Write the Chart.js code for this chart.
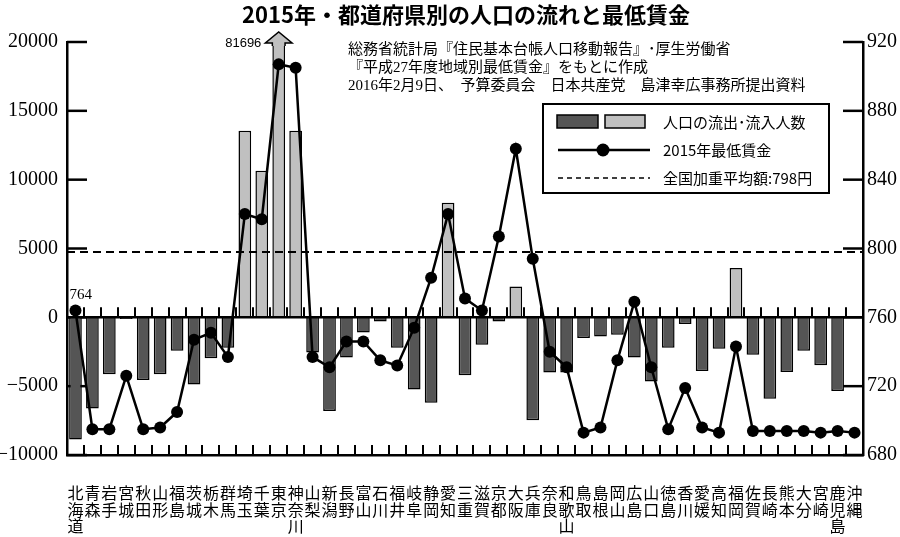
<!DOCTYPE html>
<html lang="ja">
<head>
<meta charset="utf-8">
<title>2015年・都道府県別の人口の流れと最低賃金</title>
<script src="https://cdn.jsdelivr.net/npm/chart.js@4.4.1/dist/chart.umd.min.js"></script>
<style>
  html, body { margin: 0; padding: 0; background: #fff; }
  canvas { display: block; }
</style>
</head>
<body>
<canvas id="chart" width="900" height="537"></canvas>
<script>
const prefectures = [
  "北海道", "青森", "岩手", "宮城", "秋田", "山形", "福島", "茨城", "栃木", "群馬",
  "埼玉", "千葉", "東京", "神奈川", "山梨", "新潟", "長野", "富山", "石川", "福井",
  "岐阜", "静岡", "愛知", "三重", "滋賀", "京都", "大阪", "兵庫", "奈良", "和歌山",
  "鳥取", "島根", "岡山", "広島", "山口", "徳島", "香川", "愛媛", "高知", "福岡",
  "佐賀", "長崎", "熊本", "大分", "宮崎", "鹿児島", "沖縄"
];

// 転入超過数（人）: マイナスは流出
const netMigration = [
  -8880, -6620, -4140, -130, -4550, -4140, -2430, -4870, -2970, -2210,
  13550, 10650, 81696, 13550, -2550, -6810, -2920, -1100, -300, -2210,
  -5250, -6200, 8320, -4210, -2000, -300, 2240, -7470, -4010, -4010,
  -1510, -1390, -1270, -2920, -4670, -2210, -490, -3890, -2290, 3580,
  -2720, -5910, -3970, -2430, -3480, -5350, 0
];

// 2015年 地域別最低賃金（円）
const minWage2015 = [
  764, 695, 695, 726, 695, 696, 705, 747, 751, 737,
  820, 817, 907, 905, 737, 731, 746, 746, 735, 732,
  754, 783, 820, 771, 764, 807, 858, 794, 740, 731,
  693, 696, 735, 769, 731, 695, 719, 696, 693, 743,
  694, 694, 694, 694, 693, 694, 693
];

const nationalAverage = 798;

const titleText = "2015年・都道府県別の人口の流れと最低賃金";
const sourceLines = [
  "総務省統計局『住民基本台帳人口移動報告』･厚生労働省",
  "『平成27年度地域別最低賃金』をもとに作成",
  "2016年2月9日、　予算委員会　日本共産党　島津幸広事務所提出資料"
];
const legendLabels = ["人口の流出･流入人数", "2015年最低賃金", "全国加重平均額:798円"];

const DARK = "#555555";
const LIGHT = "#c0c0c0";
const SANS = "'Noto Sans CJK JP', 'Noto Sans', sans-serif";
const SERIF = "'Liberation Serif', 'Noto Sans CJK JP', serif";

const plainNumber = v => String(v).replace("-", "\u2212");

const decorations = {
  id: "decorations",
  beforeDatasetsDraw(chart) {
    const { ctx, chartArea: a, scales: { y, y1 } } = chart;
    ctx.save();
    ctx.strokeStyle = "#000";
    // inward ticks on both value axes (behind the bars)
    ctx.lineWidth = 2.5;
    y.ticks.forEach(t => {
      const py = y.getPixelForValue(t.value);
      ctx.beginPath(); ctx.moveTo(a.left, py); ctx.lineTo(a.left + 20, py); ctx.stroke();
    });
    y1.ticks.forEach(t => {
      const py = y1.getPixelForValue(t.value);
      ctx.beginPath(); ctx.moveTo(a.right - 20, py); ctx.lineTo(a.right, py); ctx.stroke();
    });
    ctx.restore();
  },
  beforeDatasetDraw(chart, args) {
    if (args.index !== 0) return; // draw right before the wage line
    const { ctx, chartArea: a, scales: { x, y, y1 } } = chart;
    ctx.save();
    ctx.strokeStyle = "#000";

    // zero line
    const zeroY = y.getPixelForValue(0);
    ctx.lineWidth = 2.5;
    ctx.beginPath(); ctx.moveTo(a.left, zeroY); ctx.lineTo(a.right, zeroY); ctx.stroke();

    // category boundary ticks on the zero line and on the bottom axis
    ctx.lineWidth = 2;
    for (let i = 1; i < prefectures.length; i++) {
      const bx = Math.round((x.getPixelForValue(i - 1) + x.getPixelForValue(i)) / 2);
      ctx.beginPath();
      ctx.moveTo(bx, zeroY); ctx.lineTo(bx, zeroY - 10);
      ctx.moveTo(bx, a.bottom); ctx.lineTo(bx, a.bottom - 10);
      ctx.stroke();
    }

    // national weighted average
    const avgY = y1.getPixelForValue(nationalAverage);
    ctx.lineWidth = 2;
    ctx.setLineDash([8, 5]);
    ctx.beginPath(); ctx.moveTo(a.left, avgY); ctx.lineTo(a.right, avgY); ctx.stroke();
    ctx.restore();
  },
  afterDatasetsDraw(chart) {
    const { ctx, chartArea: a } = chart;
    ctx.save();

    // arrow head on the clipped Tokyo bar
    const tokyo = prefectures.indexOf("東京");
    const bar = chart.getDatasetMeta(1).data[tokyo];
    const half = bar.width / 2;
    const top = a.top + 1;
    const arrowPath = () => {
      ctx.beginPath();
      ctx.moveTo(bar.x - half, top + 3);
      ctx.lineTo(bar.x - half, top);
      ctx.lineTo(bar.x - half - 7, top);
      ctx.lineTo(bar.x, top - 11);
      ctx.lineTo(bar.x + half + 7, top);
      ctx.lineTo(bar.x + half, top);
      ctx.lineTo(bar.x + half, top + 3);
    };
    ctx.fillStyle = LIGHT;
    ctx.strokeStyle = "#000";
    ctx.lineWidth = 1.5;
    arrowPath(); ctx.closePath(); ctx.fill();
    arrowPath(); ctx.stroke();

    ctx.fillStyle = "#000";
    ctx.font = "13px 'Liberation Sans', sans-serif";
    ctx.textAlign = "right";
    ctx.textBaseline = "middle";
    ctx.fillText(String(netMigration[tokyo]), bar.x - half - 11, top);

    // first wage value
    const p0 = chart.getDatasetMeta(0).data[0];
    ctx.font = "15px " + SERIF;
    ctx.textAlign = "left";
    ctx.fillText(String(minWage2015[0]), p0.x - 6, p0.y - 15);
    ctx.restore();
  },
  afterDraw(chart) {
    const { ctx } = chart;
    ctx.save();
    ctx.fillStyle = "#000";
    ctx.textBaseline = "middle";

    // title
    ctx.font = "bold 22px " + SANS;
    ctx.textAlign = "center";
    ctx.fillText(titleText, 466, 15);

    // source notes
    ctx.font = "15px " + SERIF;
    ctx.textAlign = "left";
    sourceLines.forEach((s, i) => ctx.fillText(s, 348, 50 + i * 18));

    // legend
    ctx.fillStyle = "#fff";
    ctx.fillRect(543, 104, 286, 89);
    ctx.strokeStyle = "#000";
    ctx.lineWidth = 2;
    ctx.strokeRect(543, 104, 286, 89);

    ctx.lineWidth = 1.5;
    ctx.fillStyle = DARK;
    ctx.fillRect(557, 115, 41, 13);
    ctx.strokeRect(557, 115, 41, 13);
    ctx.fillStyle = LIGHT;
    ctx.fillRect(605, 115, 40, 13);
    ctx.strokeRect(605, 115, 40, 13);

    ctx.lineWidth = 2.5;
    ctx.beginPath(); ctx.moveTo(558, 150); ctx.lineTo(650, 150); ctx.stroke();
    ctx.fillStyle = "#000";
    ctx.beginPath(); ctx.arc(603, 150, 6.5, 0, Math.PI * 2); ctx.fill();

    ctx.lineWidth = 1.5;
    ctx.setLineDash([5, 4]);
    ctx.beginPath(); ctx.moveTo(558, 178); ctx.lineTo(650, 178); ctx.stroke();
    ctx.setLineDash([]);

    ctx.font = "15px " + SANS;
    legendLabels.forEach((s, i) => ctx.fillText(s, 663, 122 + i * 28));
    ctx.restore();
  }
};

new Chart(document.getElementById("chart"), {
  data: {
    labels: prefectures.map(p => p.split("")),
    datasets: [
      {
        type: "line",
        label: "2015年最低賃金",
        data: minWage2015,
        yAxisID: "y1",
        order: 0,
        borderColor: "#000",
        borderWidth: 2.5,
        tension: 0,
        pointRadius: 6,
        pointBackgroundColor: "#000",
        pointBorderColor: "#000",
        pointBorderWidth: 0
      },
      {
        type: "bar",
        label: "人口の流出･流入人数",
        data: netMigration,
        yAxisID: "y",
        order: 1,
        backgroundColor: netMigration.map(v => (v < 0 ? DARK : LIGHT)),
        borderColor: "#000",
        borderWidth: 1.5,
        barPercentage: 0.75,
        categoryPercentage: 1
      }
    ]
  },
  options: {
    responsive: false,
    animation: false,
    layout: { padding: { top: 42, left: 0, right: 0, bottom: 0 } },
    plugins: {
      legend: { display: false },
      title: { display: false },
      tooltip: { enabled: false }
    },
    scales: {
      x: {
        type: "category",
        offset: true,
        grid: { display: false, drawTicks: false },
        border: { display: true, color: "#000", width: 2.5 },
        ticks: {
          autoSkip: false,
          maxRotation: 0,
          minRotation: 0,
          padding: 29,
          color: "#000",
          font: { family: SANS, size: 16, lineHeight: 1.06 }
        },
        afterFit: s => { s.height = 82; }
      },
      y: {
        position: "left",
        min: -10000,
        max: 20000,
        grid: { display: false, drawTicks: false },
        border: { display: true, color: "#000", width: 2.5 },
        ticks: {
          stepSize: 5000,
          padding: 9,
          color: "#000",
          font: { family: SERIF, size: 20 },
          callback: plainNumber
        },
        afterFit: s => { s.width = 67; }
      },
      y1: {
        position: "right",
        min: 680,
        max: 920,
        grid: { display: false, drawTicks: false },
        border: { display: true, color: "#000", width: 2.5 },
        ticks: {
          stepSize: 40,
          padding: 4,
          color: "#000",
          font: { family: SERIF, size: 20 },
          callback: plainNumber
        },
        afterFit: s => { s.width = 37; }
      }
    }
  },
  plugins: [decorations]
});
</script>
</body>
</html>
